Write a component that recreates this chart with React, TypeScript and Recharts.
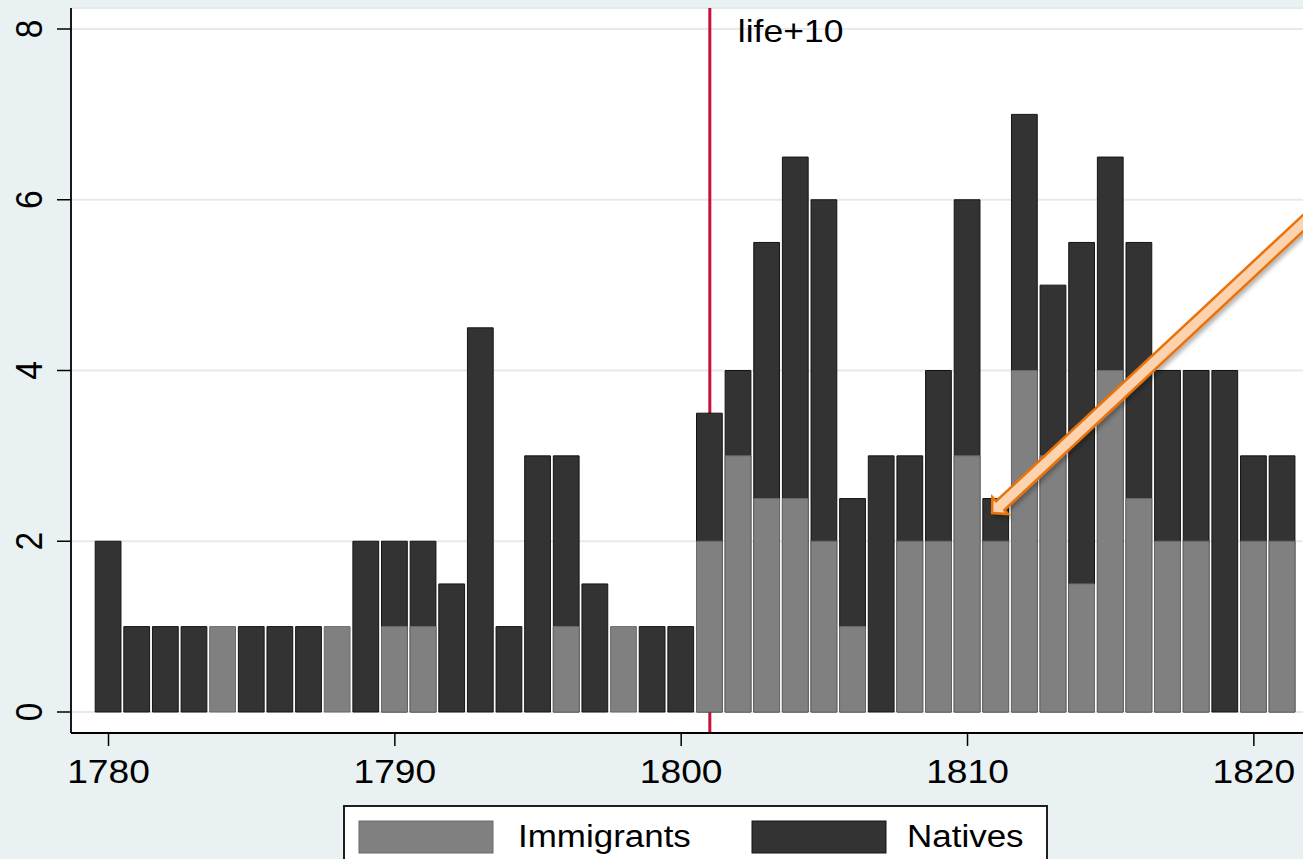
import React from "react";
import { Bar, CartesianGrid, ComposedChart, Legend, ReferenceLine, XAxis, YAxis } from "recharts";

const FONT = '"Liberation Sans", Arial, Helvetica, sans-serif';
const BG = "#e9f1f3";
const GRID = "#e3ebee";
const IMM = "#808080";
const IMM_EDGE = "#6a6a6a";
const NAT = "#333333";
const NAT_EDGE = "#141414";
const RED = "#c8103c";
// the source graph was exported a bit wider than tall, so its text looks stretched
const STRETCH = 1.11;

const YEARS = [
  1780, 1781, 1782, 1783, 1784, 1785, 1786, 1787, 1788, 1789,
  1790, 1791, 1792, 1793, 1794, 1795, 1796, 1797, 1798, 1799,
  1800, 1801, 1802, 1803, 1804, 1805, 1806, 1807, 1808, 1809,
  1810, 1811, 1812, 1813, 1814, 1815, 1816, 1817, 1818, 1819,
  1820, 1821,
];
const NATIVES = [
  2, 1, 1, 1, 0, 1, 1, 1, 0, 2,
  2, 2, 1.5, 4.5, 1, 3, 3, 1.5, 0, 1,
  1, 3.5, 4, 5.5, 6.5, 6, 2.5, 3, 3, 4,
  6, 2.5, 7, 5, 5.5, 6.5, 5.5, 4, 4, 4,
  3, 3,
];
const IMMIGRANTS = [
  0, 0, 0, 0, 1, 0, 0, 0, 1, 0,
  1, 1, 0, 0, 0, 0, 1, 0, 1, 0,
  0, 2, 3, 2.5, 2.5, 2, 1, 0, 2, 2,
  3, 2, 4, 3, 1.5, 4, 2.5, 2, 2, 0,
  2, 2,
];
const X_TICKS = [1780, 1790, 1800, 1810, 1820];
const Y_TICKS = [0, 2, 4, 6, 8];
const MARKER_YEAR = 1801;
const MARKER_LABEL = "life+10";
const ARROW_FROM = { x: 1822.5, y: 5.97 };
const ARROW_TO = { x: 1810.86, y: 2.33 };
const SERIES = [
  { key: "immigrants", name: "Immigrants", fill: IMM, edge: IMM_EDGE },
  { key: "natives", name: "Natives", fill: NAT, edge: NAT_EDGE },
];

const data = YEARS.map((year, i) => ({ year, natives: NATIVES[i], immigrants: IMMIGRANTS[i] }));

const W = 1320;
const H = 859;
const Y_AXIS_W = 71;
const X_AXIS_H = 126;
const X_DOMAIN: [number, number] = [1778.69, 1822.31];
const Y_DOMAIN: [number, number] = [-0.246, 8.246];
const YEAR_PX = (W - Y_AXIS_W) / (X_DOMAIN[1] - X_DOMAIN[0]);

function XTick({ x, y, payload }: any) {
  return (
    <text
      transform={`translate(${x},${y + 37.3}) scale(${STRETCH},1)`}
      textAnchor="middle"
      fontSize={33.5}
      fontFamily={FONT}
      fill="#000"
    >
      {payload.value}
    </text>
  );
}

function YTick({ x, y, payload }: any) {
  return (
    <text
      transform={`translate(${x - 14.7},${y}) scale(${STRETCH},1) rotate(-90)`}
      textAnchor="middle"
      fontSize={33.5}
      fontFamily={FONT}
      fill="#000"
    >
      {payload.value}
    </text>
  );
}

function MarkerLabel(props: any) {
  const vb = props.viewBox ?? { x: 0, y: 0 };
  return (
    <text
      transform={`translate(${vb.x + 28},${vb.y + 34}) scale(${STRETCH},1)`}
      fontSize={32}
      fontFamily={FONT}
      fill="#000"
    >
      {MARKER_LABEL}
    </text>
  );
}

function Arrow({ x1, y1, x2, y2 }: any) {
  const len = Math.hypot(x2 - x1, y2 - y1);
  const ux = (x2 - x1) / len;
  const uy = (y2 - y1) / len;
  const nx = -uy;
  const ny = ux;
  const shaft = 6;
  const head = 11.5;
  const headLen = 11;
  const bx = x2 - ux * headLen;
  const by = y2 - uy * headLen;
  const pts = [
    [x1 + nx * shaft, y1 + ny * shaft],
    [bx + nx * shaft, by + ny * shaft],
    [bx + nx * head, by + ny * head],
    [x2, y2],
    [bx - nx * head, by - ny * head],
    [bx - nx * shaft, by - ny * shaft],
    [x1 - nx * shaft, y1 - ny * shaft],
  ];
  return (
    <g>
      <defs>
        <filter id="arrowShadow" x="-20%" y="-20%" width="140%" height="140%">
          <feDropShadow dx="2" dy="3" stdDeviation="2" floodColor="#000" floodOpacity="0.3" />
        </filter>
      </defs>
      <polygon
        points={pts.map((p) => p.join(",")).join(" ")}
        fill="#fcd3ae"
        stroke="#e8730f"
        strokeWidth={2.5}
        filter="url(#arrowShadow)"
      />
    </g>
  );
}

function LegendBox() {
  const items = [
    { swatchX: 16, textX: 175 },
    { swatchX: 409, textX: 564 },
  ];
  return (
    <svg width={705} height={70} style={{ display: "block" }}>
      <rect x={1} y={1} width={703} height={90} fill="#fff" stroke="#1e1e1e" strokeWidth={2} />
      {SERIES.map((s, i) => (
        <g key={s.key}>
          <rect x={items[i].swatchX} y={16} width={134} height={32} fill={s.fill} stroke={s.edge} strokeWidth={1} />
          <text
            transform={`translate(${items[i].textX},${42}) scale(${STRETCH},1)`}
            fontSize={31.5}
            fontFamily={FONT}
            fill="#000"
          >
            {s.name}
          </text>
        </g>
      ))}
    </svg>
  );
}

export default function App() {
  return (
    <div style={{ position: "fixed", left: 0, top: 0, width: 1303, height: 859, overflow: "hidden", background: BG }}>
      <ComposedChart
        width={W}
        height={H}
        data={data}
        barCategoryGap={0}
        barGap={0}
        margin={{ top: 8, right: 0, bottom: 0, left: 0 }}
      >
        <CartesianGrid xAxisId="n" vertical={false} stroke={GRID} strokeWidth={2} fill="#ffffff" fillOpacity={1} />
        <XAxis
          xAxisId="n"
          type="number"
          dataKey="year"
          domain={X_DOMAIN}
          allowDataOverflow
          ticks={X_TICKS}
          interval={0}
          height={X_AXIS_H}
          tickSize={13}
          tickMargin={0}
          tick={<XTick />}
          tickLine={{ stroke: "#000", strokeWidth: 1.5 }}
          axisLine={{ stroke: "#000", strokeWidth: 1.8 }}
        />
        <XAxis
          xAxisId="i"
          orientation="top"
          height={0}
          type="number"
          dataKey="year"
          domain={X_DOMAIN}
          allowDataOverflow
          hide
        />
        <YAxis
          type="number"
          domain={Y_DOMAIN}
          allowDataOverflow
          ticks={Y_TICKS}
          interval={0}
          width={Y_AXIS_W}
          tickSize={14}
          tickMargin={0}
          tick={<YTick />}
          tickLine={{ stroke: "#000", strokeWidth: 1.5 }}
          axisLine={{ stroke: "#000", strokeWidth: 1.8 }}
        />
        <ReferenceLine
          xAxisId="n"
          x={MARKER_YEAR}
          stroke={RED}
          strokeWidth={3}
          zIndex={250}
          label={MarkerLabel}
        />
        <Bar
          xAxisId="n"
          dataKey="natives"
          name="Natives"
          fill={NAT}
          stroke={NAT_EDGE}
          strokeWidth={1}
          barSize={YEAR_PX}
          isAnimationActive={false}
        />
        <Bar
          xAxisId="i"
          dataKey="immigrants"
          name="Immigrants"
          fill={IMM}
          stroke={IMM_EDGE}
          strokeWidth={1}
          barSize={YEAR_PX}
          isAnimationActive={false}
        />
        <ReferenceLine
          xAxisId="n"
          segment={[ARROW_FROM, ARROW_TO]}
          ifOverflow="visible"
          shape={Arrow}
        />
        <Legend
          layout="horizontal"
          align="center"
          verticalAlign="middle"
          content={LegendBox}
          wrapperStyle={{ left: 343, top: 805, bottom: "auto", width: 705, height: 70 }}
        />
      </ComposedChart>
    </div>
  );
}
